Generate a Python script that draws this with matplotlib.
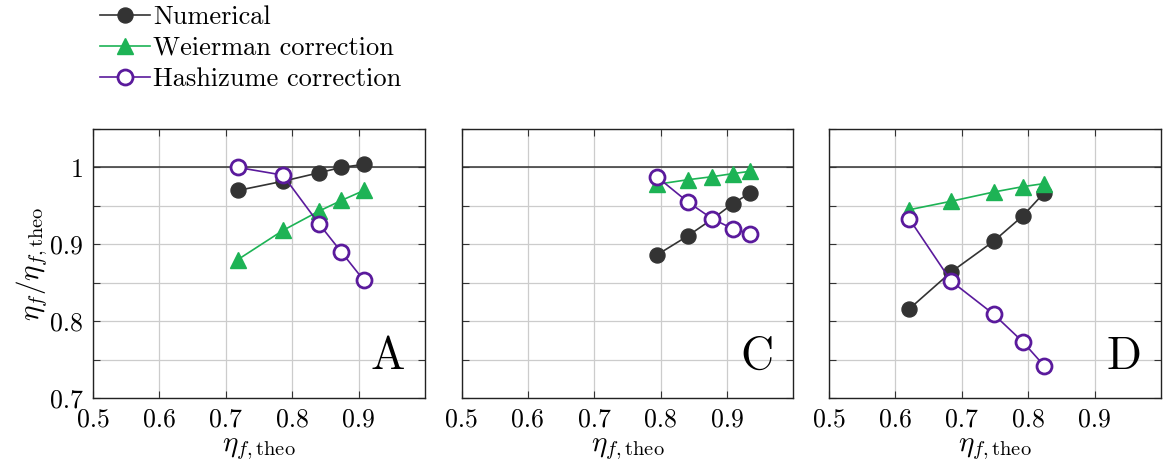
import matplotlib
matplotlib.use("Agg")
import matplotlib.pyplot as plt
import numpy as np

plt.rcParams['font.family'] = 'serif'
plt.rcParams['font.serif'] = ['cmr10']
plt.rcParams['mathtext.fontset'] = 'cm'
plt.rcParams['axes.unicode_minus'] = False
plt.rcParams['axes.formatter.use_mathtext'] = True

panels = ["A", "C", "D"]

# x values (eta_f,theo) per panel
num_x = [[0.718, 0.786, 0.840, 0.874, 0.908],
         [0.794, 0.841, 0.878, 0.909, 0.935],
         [0.621, 0.684, 0.748, 0.792, 0.824]]
num_y = [[0.970, 0.982, 0.993, 1.000, 1.004],
         [0.886, 0.911, 0.933, 0.953, 0.967],
         [0.816, 0.864, 0.904, 0.937, 0.967]]
wei_y = [[0.880, 0.918, 0.943, 0.957, 0.970],
         [0.978, 0.984, 0.988, 0.992, 0.995],
         [0.945, 0.956, 0.968, 0.975, 0.979]]
has_y = [[1.000, 0.990, 0.927, 0.890, 0.853],
         [0.988, 0.955, 0.933, 0.920, 0.914],
         [0.933, 0.852, 0.809, 0.773, 0.742]]

x_ticks = [0.5, 0.6, 0.7, 0.8, 0.9]
y_ticks = [0.7, 0.8, 0.9, 1.0]
y_tick_labels = ["0.7", "0.8", "0.9", "1"]

c_num = "#333333"
c_wei = "#1db355"
c_has = "#5a1a9c"

W, H = 1172, 473
fig = plt.figure(figsize=(W / 100, H / 100), dpi=100)

lefts = [93, 461.5, 829]
ax_w = 332
top, bottom = 129, 398

axes = []
for i, name in enumerate(panels):
    ax = fig.add_axes([lefts[i] / W, 1 - bottom / H, ax_w / W, (bottom - top) / H])
    axes.append(ax)
    ax.set_xlim(0.5, 1.0)
    ax.set_ylim(0.7, 1.05)
    ax.set_xticks(x_ticks)
    ax.set_xticklabels([f"{t:.1f}" for t in x_ticks], fontsize=18.5)
    ax.set_yticks(np.arange(0.7, 1.051, 0.05))
    if i == 0:
        labs = []
        for t in np.arange(0.7, 1.051, 0.05):
            m = [l for v, l in zip(y_ticks, y_tick_labels) if abs(v - t) < 1e-6]
            labs.append(m[0] if m else "")
        ax.set_yticklabels(labs, fontsize=18.5)
        ax.set_ylabel(r"$\eta_f/\eta_{f,\mathrm{theo}}$", fontsize=21, labelpad=0)
    else:
        ax.set_yticklabels([])
    ax.tick_params(direction='in', top=True, right=True, length=5, width=0.8,
                   color="#333333", pad=7)
    ax.grid(True, color="#cccccc", linewidth=0.9)
    ax.set_axisbelow(True)
    for s in ax.spines.values():
        s.set_linewidth(1.0)
        s.set_color("#222222")
    ax.axhline(1.0, color="#333333", linewidth=1.1, zorder=1.5)
    ax.set_xlabel(r"$\eta_{f,\mathrm{theo}}$", fontsize=21, labelpad=3)

    ax.plot(num_x[i], num_y[i], '-o', color=c_num, lw=1.2, ms=10.8,
            mfc=c_num, mec=c_num, zorder=3, label="Numerical")
    ax.plot(num_x[i], wei_y[i], '-^', color=c_wei, lw=1.2, ms=11.2,
            mfc=c_wei, mec=c_wei, zorder=4, label="Weierman correction")
    ax.plot(num_x[i], has_y[i], '-o', color=c_has, lw=1.2, ms=10.8,
            mfc="white", mec=c_has, mew=2.0, zorder=5, label="Hashizume correction")
    ax.text(0.94, 0.075, name, transform=ax.transAxes, ha='right', va='bottom',
            fontsize=33)

h, l = axes[0].get_legend_handles_labels()
fig.legend(h, l, loc='upper left', bbox_to_anchor=(97 / W, 1 - 2.5 / H),
           frameon=False, fontsize=19, handlelength=1.9, handletextpad=0.12,
           labelspacing=0.28, borderaxespad=0.0, borderpad=0.1)

fig.savefig("out.png", dpi=100)
